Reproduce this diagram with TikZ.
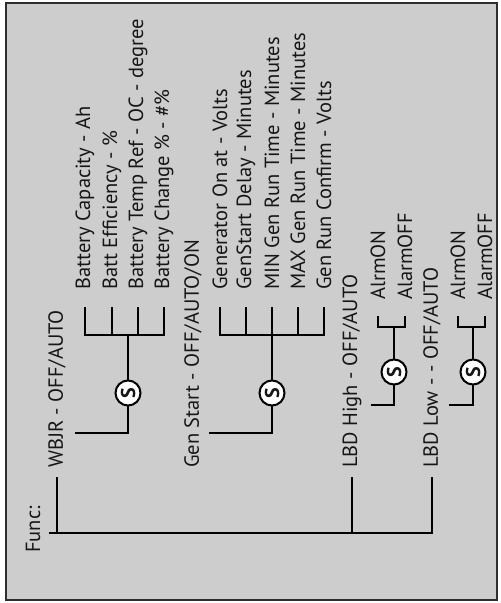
\documentclass[tikz,border=0pt]{standalone}
\usepackage{fontspec}
\setmainfont{PT Sans}
\usetikzlibrary{calc}
\definecolor{panel}{HTML}{CDCDCD}
\definecolor{frame}{HTML}{2E2E2E}
\definecolor{ink}{HTML}{161616}
\tikzset{
  every node/.style={font=\fontsize{20.5}{24}\selectfont, text=ink, inner sep=0pt},
  item/.style={rotate=90, anchor=west},
  sw/.style={circle, draw=black, line width=2pt, fill=white, minimum size=25pt,
             inner sep=0pt, rotate=90, font=\fontsize{20}{24}\selectfont\bfseries},
  wire/.style={draw=black, line width=1.8pt, line cap=rect},
}
\begin{document}
\begin{tikzpicture}[x=1pt, y=-1pt]
\useasboundingbox (0,0) rectangle (501,603);
% ---- panel --------------------------------------------------------------------
\path[fill=panel, draw=frame, line width=2.2pt] (6,3) rectangle (497,600);

% ---- grid (px, y down) --------------------------------------------------------
\def\rT{533} \def\rL{468} \def\rJ{433} \def\rS{393} \def\rB{335} \def\rC{290}
\def\rJs{405} \def\rSs{372} \def\rBs{327} \def\rCs{300}

% ---- top level ----------------------------------------------------------------
\node[item] (func) at (33,553) {Func:};
\node[item] (wbjr) at (57,\rL) {WBJR - OFF/AUTO};
\node[item] (gen)  at (193,\rL) {Gen Start - OFF/AUTO/ON};
\node[item] (high) at (352,\rL) {LBD High - OFF/AUTO};
\node[item] (low)  at (432,\rL) {LBD Low - - OFF/AUTO};

% ---- battery settings ---------------------------------------------------------
\node[item] (bat1) at (85,\rC)  {Battery Capacity - Ah};
\node[item] (bat2) at (112,\rC) {Batt Efficiency - \%};
\node[item] (bat3) at (138,\rC) {Battery Temp Ref - OC - degree};
\node[item] (bat4) at (164,\rC) {Battery Change \% - \#\%};

% ---- generator settings -------------------------------------------------------
\node[item] (gen1) at (220,\rC) {Generator On at - Volts};
\node[item] (gen2) at (246,\rC) {GenStart Delay - Minutes};
\node[item] (gen3) at (272,\rC) {MIN Gen Run Time - Minutes};
\node[item] (gen4) at (298,\rC) {MAX Gen Run Time - Minutes};
\node[item] (gen5) at (324,\rC) {Gen Run Confirm - Volts};

% ---- alarms -------------------------------------------------------------------
\node[item] (hon)  at (378,\rCs) {AlrmON};
\node[item] (hoff) at (405,\rCs) {AlarmOFF};
\node[item] (lon)  at (458,\rCs) {AlrmON};
\node[item] (loff) at (485,\rCs) {AlarmOFF};

% ---- switches -----------------------------------------------------------------
\node[sw] (s1) at (128,\rS)  {S};
\node[sw] (s2) at (272,\rS)  {S};
\node[sw] (s3) at (394,\rSs) {S};
\node[sw] (s4) at (473,\rSs) {S};

% ---- trunk --------------------------------------------------------------------
\coordinate (t0) at (50,\rT);
\draw[wire, shorten >=10pt] (t0) -- (low.west |- t0) -- (low.west);
\draw[wire, shorten >=10pt] (wbjr.west |- t0) -- (wbjr.west);
\draw[wire, shorten >=10pt] (high.west |- t0) -- (high.west);

% ---- into the switches --------------------------------------------------------
\coordinate (j1) at (76,\rJ);
\coordinate (j2) at (210,\rJ);
\coordinate (j3) at (372,\rJs);
\coordinate (j4) at (450,\rJs);
\draw[wire] (j1) -| (s1);
\draw[wire] (j2) -| (s2);
\draw[wire] (j3) -| (s3);
\draw[wire] (j4) -| (s4);

% ---- brackets -----------------------------------------------------------------
\coordinate (b1) at (128,\rB);
\coordinate (b2) at (272,\rB);
\coordinate (b3) at (394,\rBs);
\coordinate (b4) at (473,\rBs);
\draw[wire] (s1) -- (b1);
\draw[wire] (s2) -- (b2);
\draw[wire] (s3) -- (b3);
\draw[wire] (s4) -- (b4);
\draw[wire] (bat1.west |- b1) -- (bat4.west |- b1);
\draw[wire] (gen1.west |- b2) -- (gen5.west |- b2);
\draw[wire] (hon.west |- b3) -- (hoff.west |- b3);
\draw[wire] (lon.west |- b4) -- (loff.west |- b4);
\foreach \c in {bat1,bat2,bat3,bat4} \draw[wire, shorten >=18pt] (\c.west |- b1) -- (\c.west);
\foreach \c in {gen1,gen2,gen3,gen4,gen5} \draw[wire, shorten >=18pt] (\c.west |- b2) -- (\c.west);
\foreach \c in {hon,hoff} \draw[wire, shorten >=17pt] (\c.west |- b3) -- (\c.west);
\foreach \c in {lon,loff} \draw[wire, shorten >=17pt] (\c.west |- b4) -- (\c.west);
\end{tikzpicture}
\end{document}
